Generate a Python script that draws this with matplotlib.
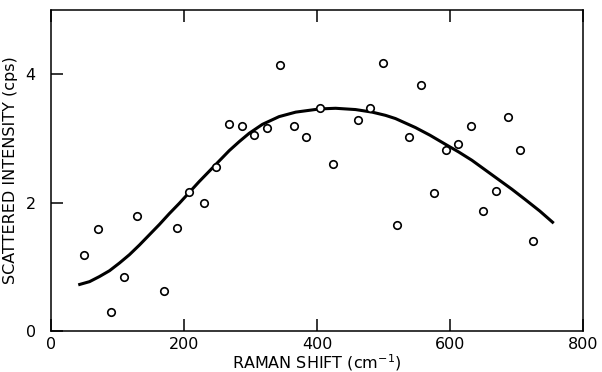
import numpy as np
import matplotlib
matplotlib.use("Agg")
import matplotlib.pyplot as plt

# measured points (Raman shift in cm-1, intensity in cps)
shift = [50, 70, 90, 110, 130, 170, 190, 208, 230, 248, 267, 287, 306, 325, 345, 365,
         384, 404, 424, 461, 480, 500, 520, 538, 557, 576, 594, 612, 631, 650, 669, 687, 705, 725]
counts = [1.18, 1.59, 0.30, 0.85, 1.79, 0.63, 1.61, 2.16, 2.00, 2.55, 3.23, 3.20, 3.05, 3.16, 4.15, 3.19,
          3.03, 3.47, 2.60, 3.28, 3.47, 4.17, 1.65, 3.03, 3.83, 2.15, 2.82, 2.91, 3.19, 1.87, 2.18, 3.34, 2.82, 1.40]

# fitted curve
fit_x = [41, 58, 73, 88, 103, 118, 133, 148, 163, 178, 193, 208, 223, 238, 253, 268, 283, 298, 318, 343, 368,
         404, 428, 458, 483, 503, 518, 533, 548, 570, 593, 613, 633, 653, 673, 693, 713, 735, 756]
fit_y = [0.72, 0.77, 0.85, 0.94, 1.06, 1.19, 1.34, 1.50, 1.66, 1.83, 1.99, 2.16, 2.33, 2.49, 2.65, 2.81, 2.95, 3.08,
         3.22, 3.34, 3.41, 3.46, 3.47, 3.45, 3.41, 3.36, 3.31, 3.24, 3.17, 3.05, 2.91, 2.79, 2.66, 2.51, 2.36,
         2.21, 2.05, 1.87, 1.68]

xticks = [0, 200, 400, 600, 800]
yticks = [0, 2, 4]

fig = plt.figure(figsize=(6.02, 3.72), dpi=100)
ax = fig.add_axes([0.0847, 0.110, 0.8837, 0.863])

ax.plot(fit_x, fit_y, color="black", lw=2.2, solid_capstyle="butt", solid_joinstyle="round")
ax.plot(shift, counts, "o", mfc="white", mec="black", ms=5.4, mew=1.2)

ax.set_xlim(0, 800)
ax.set_ylim(0, 5)
ax.set_xticks(xticks)
ax.set_yticks(yticks)
ax.tick_params(direction="in", length=8.5, width=1.1, labelsize=11.5, top=True, right=False)
ax.tick_params(axis="x", pad=4)
ax.tick_params(axis="y", pad=11)
for s in ax.spines.values():
    s.set_linewidth(1.1)

ax.set_xlabel("RAMAN SHIFT (cm$^{-1}$)", fontsize=11.5)
ax.xaxis.set_label_coords(0.5, -0.065)
ax.set_ylabel("SCATTERED INTENSITY (cps)", fontsize=11.5)
ax.yaxis.set_label_coords(-0.062, 0.5)

fig.savefig("out.png", dpi=100)
